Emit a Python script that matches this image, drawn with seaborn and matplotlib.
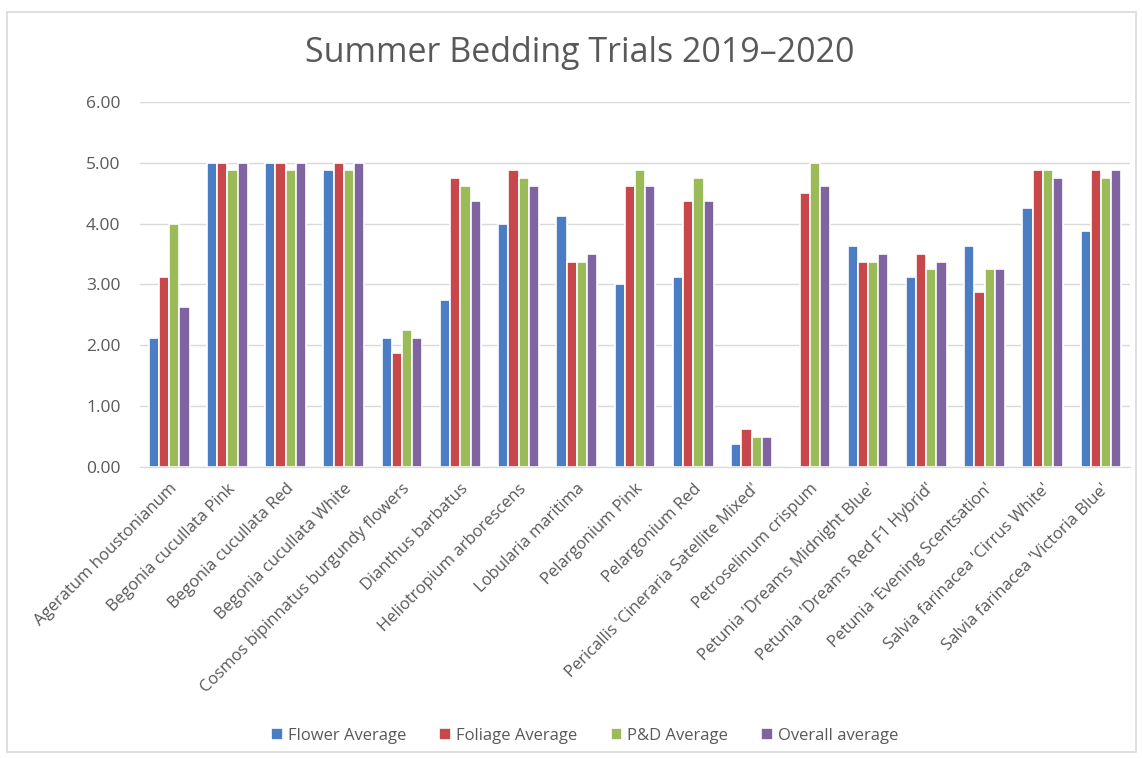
import numpy as np
import pandas as pd
import matplotlib
matplotlib.use("Agg")
import matplotlib.pyplot as plt
import seaborn as sns
from matplotlib.patches import Rectangle

plants = [
    "Ageratum houstonianum", "Begonia cucullata Pink", "Begonia cucullata Red",
    "Begonia cucullata White", "Cosmos bipinnatus burgundy flowers",
    "Dianthus barbatus", "Heliotropium arborescens", "Lobularia maritima",
    "Pelargonium Pink", "Pelargonium Red", "Pericallis 'Cineraria Satellite Mixed'",
    "Petroselinum crispum", "Petunia 'Dreams Midnight Blue'",
    "Petunia 'Dreams Red F1 Hybrid'", "Petunia 'Evening Scentsation'",
    "Salvia farinacea 'Cirrus White'", "Salvia farinacea 'Victoria Blue'",
]
flower = [2.125, 5.0, 5.0, 4.875, 2.125, 2.75, 4.0, 4.125, 3.0, 3.125, 0.375,
          0.0, 3.625, 3.125, 3.625, 4.25, 3.875]
foliage = [3.125, 5.0, 5.0, 5.0, 1.875, 4.75, 4.875, 3.375, 4.625, 4.375, 0.625,
           4.5, 3.375, 3.5, 2.875, 4.875, 4.875]
pd_avg = [4.0, 4.875, 4.875, 4.875, 2.25, 4.625, 4.75, 3.375, 4.875, 4.75, 0.5,
          5.0, 3.375, 3.25, 3.25, 4.875, 4.75]
overall = [2.625, 5.0, 5.0, 5.0, 2.125, 4.375, 4.625, 3.5, 4.625, 4.375, 0.5,
           4.625, 3.5, 3.375, 3.25, 4.75, 4.875]

series = ["Flower Average", "Foliage Average", "P&D Average", "Overall average"]
colors = ["#4A7DC4", "#C8474A", "#9BBB59", "#8064A2"]

df = pd.DataFrame({"plant": plants, series[0]: flower, series[1]: foliage,
                   series[2]: pd_avg, series[3]: overall})
long = df.melt(id_vars="plant", var_name="series", value_name="score")

sns.set_style("white")
plt.rcParams["font.family"] = ["Open Sans", "DejaVu Sans"]
txt = "#595959"

fig = plt.figure(figsize=(11.42, 7.58), dpi=100)
ax = fig.add_axes([0.1226, 0.384, 0.867, 0.4815])
sns.barplot(data=long, x="plant", y="score", hue="series", order=plants,
            hue_order=series, palette=colors, saturation=1, width=0.7,
            edgecolor="white", linewidth=1.2, ax=ax, legend=True)

ax.set_ylim(0, 6)
ax.set_yticks(np.arange(0, 7, 1))
ax.set_yticklabels([f"{v:.2f}" for v in np.arange(0, 7, 1)], color=txt, fontsize=12.5)
ax.yaxis.grid(True, color="#D9D9D9", linewidth=1)
ax.set_axisbelow(True)
ax.set_xlim(-0.5, len(plants) - 0.5)
ax.set_xticks(range(len(plants)))
ax.set_xticklabels(plants, rotation=45, ha="right", rotation_mode="anchor",
                   color=txt, fontsize=12)
ax.tick_params(axis="y", length=0, pad=14)
ax.tick_params(axis="x", length=0, pad=10)
ax.set_xlabel("")
ax.set_ylabel("")
for s in ["top", "right", "left"]:
    ax.spines[s].set_visible(False)
ax.spines["bottom"].set_color("#D9D9D9")

fig.text(0.508, 0.930, "Summer Bedding Trials 2019\u20132020", ha="center",
         va="center", fontsize=24.5, color=txt)

handles, labels = ax.get_legend_handles_labels()
ax.legend_.remove()
fig.legend(handles, labels, loc="center", bbox_to_anchor=(0.512, 0.029), ncol=4,
           frameon=False, fontsize=12, labelcolor=txt, handlelength=0.7,
           handleheight=0.7, handletextpad=0.3, columnspacing=2.0)

fig.patches.append(Rectangle((0.006, 0.008), 0.989, 0.976, transform=fig.transFigure,
                             fill=False, edgecolor="#D9D9D9", linewidth=1.2))

fig.savefig("out.png", dpi=100, facecolor="white")
